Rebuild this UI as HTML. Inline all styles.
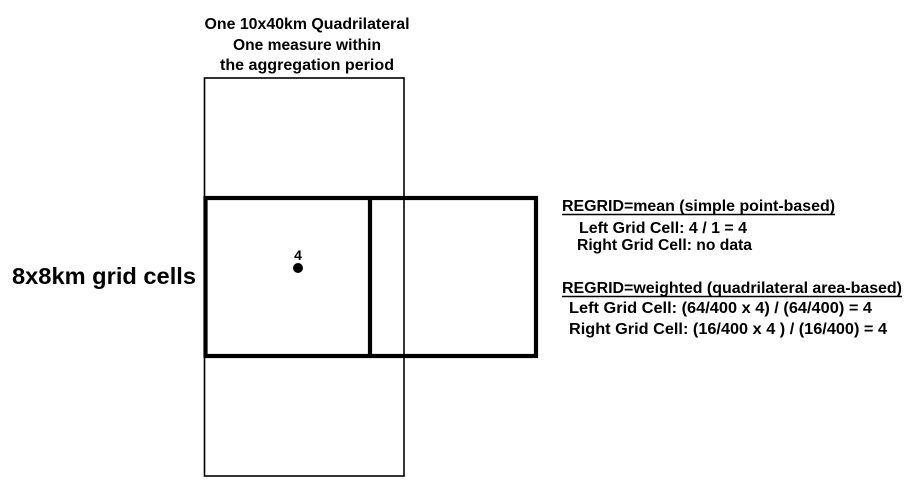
<!DOCTYPE html>
<html><head><meta charset="utf-8"><style>
html,body{margin:0;padding:0;background:#fff;}
svg{display:block;}
text{font-family:"Liberation Sans",Arial,sans-serif;font-weight:bold;fill:#000;}
</style></head><body>
<svg width="920" height="497" viewBox="0 0 920 497" xmlns="http://www.w3.org/2000/svg">
<rect x="204.5" y="78" width="199.5" height="398" fill="none" stroke="#000" stroke-width="1.6"/>
<rect x="205.5" y="198" width="330.5" height="158" fill="none" stroke="#000" stroke-width="4.2"/>
<line x1="370" y1="198" x2="370" y2="356" stroke="#000" stroke-width="4.2"/>
<circle cx="298" cy="268" r="5" fill="#000"/>
<text x="298" y="260" font-size="14" text-anchor="middle">4</text>
<text x="307" y="29" font-size="16" text-anchor="middle" textLength="205" lengthAdjust="spacingAndGlyphs">One 10x40km Quadrilateral</text>
<text x="307" y="50" font-size="16" text-anchor="middle" textLength="148" lengthAdjust="spacingAndGlyphs">One measure within</text>
<text x="307" y="70" font-size="16" text-anchor="middle" textLength="174" lengthAdjust="spacingAndGlyphs">the aggregation period</text>
<text x="12" y="284" font-size="23" textLength="184" lengthAdjust="spacingAndGlyphs">8x8km grid cells</text>
<text x="562" y="211" font-size="16" textLength="273" lengthAdjust="spacingAndGlyphs">REGRID=mean (simple point-based)</text>
<line x1="562" y1="214.5" x2="835" y2="214.5" stroke="#000" stroke-width="1.4"/>
<text x="579" y="233" font-size="16" textLength="168" lengthAdjust="spacingAndGlyphs">Left Grid Cell: 4 / 1 = 4</text>
<text x="577" y="250" font-size="16" textLength="175" lengthAdjust="spacingAndGlyphs">Right Grid Cell: no data</text>
<text x="562" y="293" font-size="16" textLength="340" lengthAdjust="spacingAndGlyphs">REGRID=weighted (quadrilateral area-based)</text>
<line x1="562" y1="296.5" x2="902" y2="296.5" stroke="#000" stroke-width="1.4"/>
<text x="569" y="313" font-size="16" textLength="303" lengthAdjust="spacingAndGlyphs">Left Grid Cell: (64/400 x 4) / (64/400) = 4</text>
<text x="569" y="334" font-size="16" textLength="318" lengthAdjust="spacingAndGlyphs">Right Grid Cell: (16/400 x 4 ) / (16/400) = 4</text>
</svg>
</body></html>
